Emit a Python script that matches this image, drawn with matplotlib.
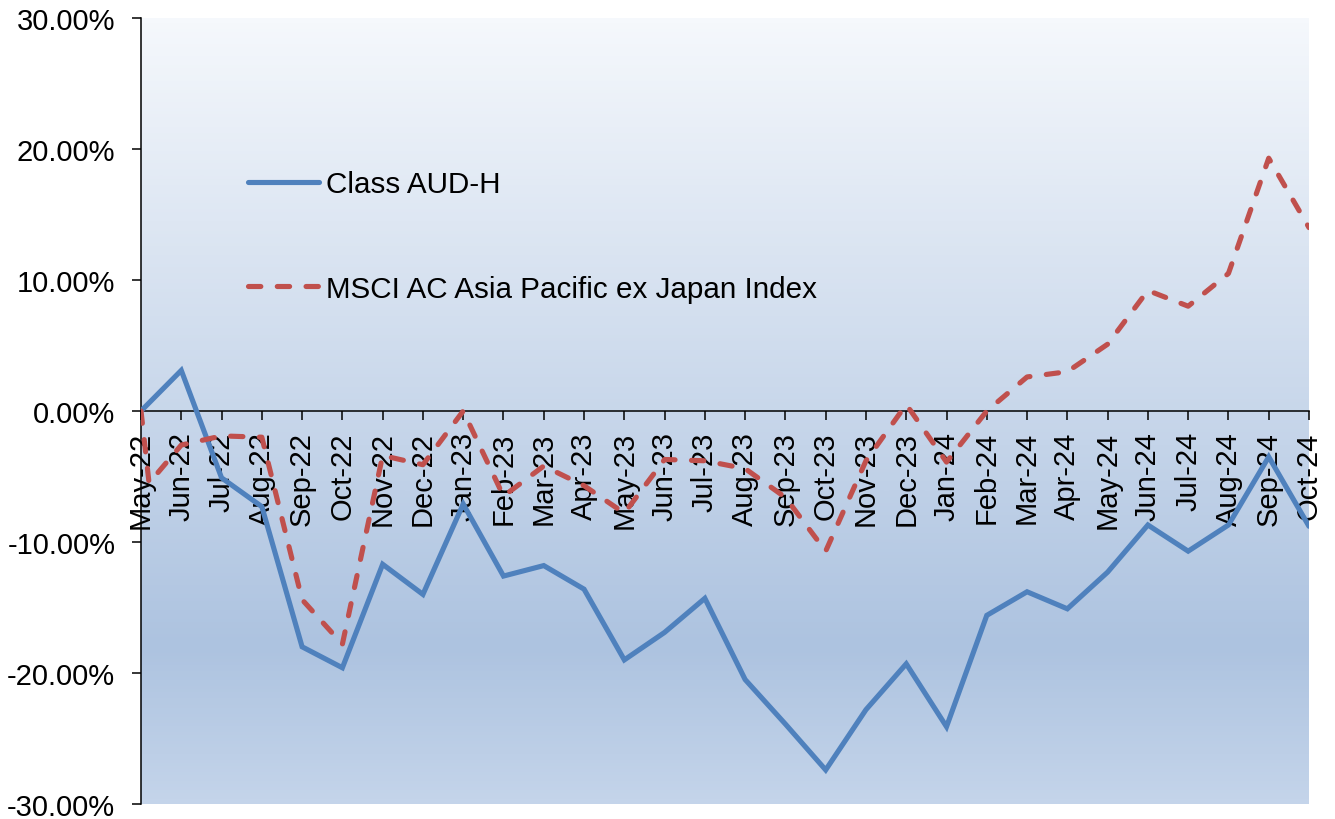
import numpy as np
import matplotlib.pyplot as plt
from matplotlib.colors import LinearSegmentedColormap
from matplotlib.ticker import FuncFormatter

# Données (en %)
months = ['May-22', 'Jun-22', 'Jul-22', 'Aug-22', 'Sep-22', 'Oct-22', 'Nov-22', 'Dec-22',
          'Jan-23', 'Feb-23', 'Mar-23', 'Apr-23', 'May-23', 'Jun-23', 'Jul-23', 'Aug-23',
          'Sep-23', 'Oct-23', 'Nov-23', 'Dec-23', 'Jan-24', 'Feb-24', 'Mar-24', 'Apr-24',
          'May-24', 'Jun-24', 'Jul-24', 'Aug-24', 'Sep-24', 'Oct-24']

class_aud_h = [0.0, 3.1, -5.1, -7.3, -18.0, -19.6, -11.7, -14.0, -7.1, -12.6, -11.8, -13.6,
               -19.0, -16.9, -14.3, -20.5, -23.9, -27.4, -22.8, -19.3, -24.1, -15.6, -13.8,
               -15.1, -12.3, -8.7, -10.7, -8.7, -3.5, -8.8]

# l'indice a un point de départ à 0 puis un premier point juste après
msci_pos = [0, 0.2] + list(range(1, 30))
msci = [0.0, -5.5, -2.6, -1.9, -2.0, -14.4, -17.8, -3.4, -4.1, 0.0, -6.5, -4.2, -5.7, -7.8,
        -3.7, -3.8, -4.4, -6.6, -10.7, -3.8, 0.5, -3.9, 0.0, 2.6, 3.0, 5.1, 9.2, 8.0, 10.5,
        19.3, 14.0]

plt.rcParams['font.family'] = ['Liberation Sans', 'DejaVu Sans']
plt.rcParams['axes.unicode_minus'] = False

fig = plt.figure(figsize=(13.35, 8.2), dpi=100)
ax = fig.add_axes([141 / 1335, 15 / 820, 1168 / 1335, 786 / 820])

# Fond dégradé
cmap = LinearSegmentedColormap.from_list('bg', [(0, '#f5f8fc'), (0.8, '#adc3e0'), (1, '#c4d4ea')])
grad = np.linspace(0, 1, 256).reshape(-1, 1)
ax.imshow(grad, cmap=cmap, aspect='auto', extent=[0, 1, 0, 1], transform=ax.transAxes,
          zorder=0, interpolation='bicubic')

x = np.arange(len(months))
ax.plot(x, class_aud_h, color='#4f81bd', lw=3.7, solid_joinstyle='miter',
        solid_capstyle='round', label='Class AUD-H', zorder=3)
ax.plot(msci_pos, msci, color='#c0504d', lw=3.7, linestyle=(0, (2.4, 3.2)),
        dash_capstyle='round', label='MSCI AC Asia Pacific ex Japan Index', zorder=3)

for s in ['top', 'right']:
    ax.spines[s].set_visible(False)
ax.spines['bottom'].set_position(('data', 0))
ax.spines['bottom'].set_linewidth(1.1)
ax.spines['left'].set_linewidth(1.1)
ax.spines['bottom'].set_zorder(2)

ax.set_xlim(0, len(months) - 1)
ax.set_ylim(-30, 30)
ax.set_yticks(np.arange(-30, 31, 10))
ax.yaxis.set_major_formatter(FuncFormatter(lambda v, p: f'{v:.2f}%'))

ax.set_xticks(x)
ax.set_xticklabels(months)

ax.tick_params(axis='y', direction='out', length=6.5, width=1.1, pad=12, labelsize=21)
ax.tick_params(axis='x', direction='out', length=6.5, width=1.1, pad=8, labelsize=21,
               labelrotation=90)

leg = ax.legend(loc='upper left', bbox_to_anchor=(0.0916, 0.806), frameon=False, fontsize=21.3,
                handlelength=2.4, handletextpad=0.25, labelspacing=2.58, borderpad=0,
                borderaxespad=0)

plt.savefig('out.png', dpi=100)
